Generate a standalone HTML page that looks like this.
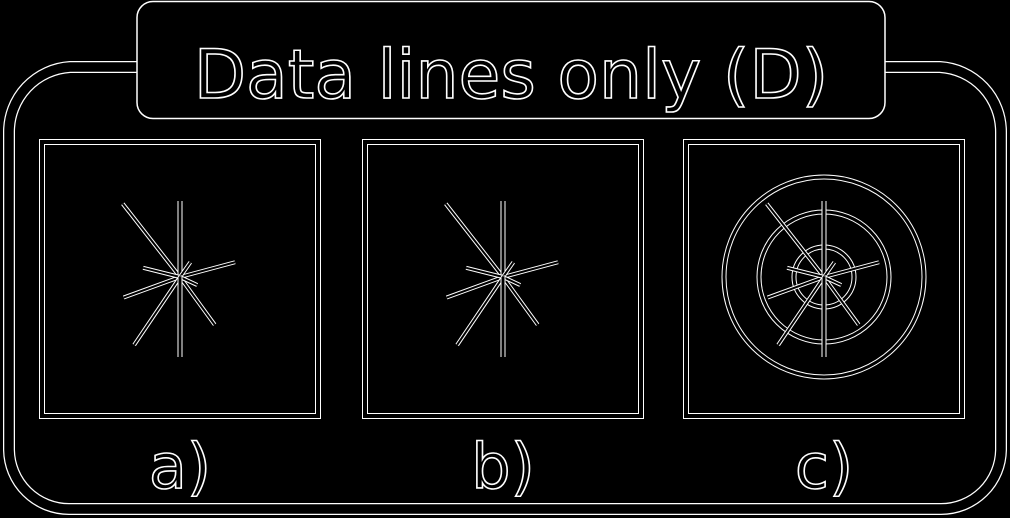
<!DOCTYPE html>
<html><head><meta charset="utf-8"><style>
html,body{margin:0;padding:0;background:#000;width:1010px;height:518px;overflow:hidden}
svg{display:block}
text{font-family:"DejaVu Sans","Liberation Sans",sans-serif;fill:#000;stroke:#fff;stroke-width:1.6}
</style></head><body>
<svg id="s" width="1010" height="518" viewBox="0 0 1010 518">
<path d="M70,67 H940 A65,65 0 0 1 1001,132 V450 A60,60 0 0 1 941,509 H69 A60,60 0 0 1 9,450 V132 A65,65 0 0 1 70,67 Z" fill="none" stroke="#fff" stroke-width="12"/>
<path d="M70,67 H940 A65,65 0 0 1 1001,132 V450 A60,60 0 0 1 941,509 H69 A60,60 0 0 1 9,450 V132 A65,65 0 0 1 70,67 Z" fill="none" stroke="#000" stroke-width="9.5"/>
<rect x="137" y="1.5" width="748" height="117" rx="16" fill="#000" stroke="#fff" stroke-width="1.5"/>
<text x="511" y="98" font-size="68" text-anchor="middle">Data lines only (D)</text>
<g id="panels"></g>
</svg>
<script>
const panelX=[42,365,686];
const panelLabels=["a)","b)","c)"];
const rayAngles=[-128,-90,-15,160,194,124,54,-55,25,90];
const rayLens=[93,76,57,60,38,82,59,18,19,80];
const ringRadii=[100,65,30];
const NS="http://www.w3.org/2000/svg";
const g=document.getElementById('panels');
function mk(t,a){const e=document.createElementNS(NS,t);for(const k in a)e.setAttribute(k,a[k]);g.appendChild(e);return e;}
function dbl(type,attrs,w){
  const a=mk(type,Object.assign({},attrs,{fill:'none',stroke:'#fff','stroke-width':w+2}));
  
  
  const b=mk(type,Object.assign({},attrs,{fill:'none',stroke:'#000','stroke-width':w}));
  return a;
}
panelX.forEach((x,i)=>{
  const p=dbl('rect',{x:x,y:142,width:276,height:274},4);
  
  const cx=x+138, cy=277;
  if(i===2){ringRadii.forEach(r=>{const c=dbl('circle',{cx:cx,cy:cy,r:r},3);
    });}
  rayAngles.forEach((a,k)=>{
    const rad=a*Math.PI/180,L=rayLens[k];
    const l=dbl('line',{x1:cx,y1:cy,x2:cx+Math.cos(rad)*L,y2:cy+Math.sin(rad)*L},k===1||k===9?3:2);
    
  });
  const t=document.createElementNS(NS,'text');
  t.setAttribute('x',cx);t.setAttribute('y',488);t.setAttribute('font-size','62');
  t.setAttribute('text-anchor','middle');t.textContent=panelLabels[i];
  
  
  g.appendChild(t);
});
</script>
</body></html>
